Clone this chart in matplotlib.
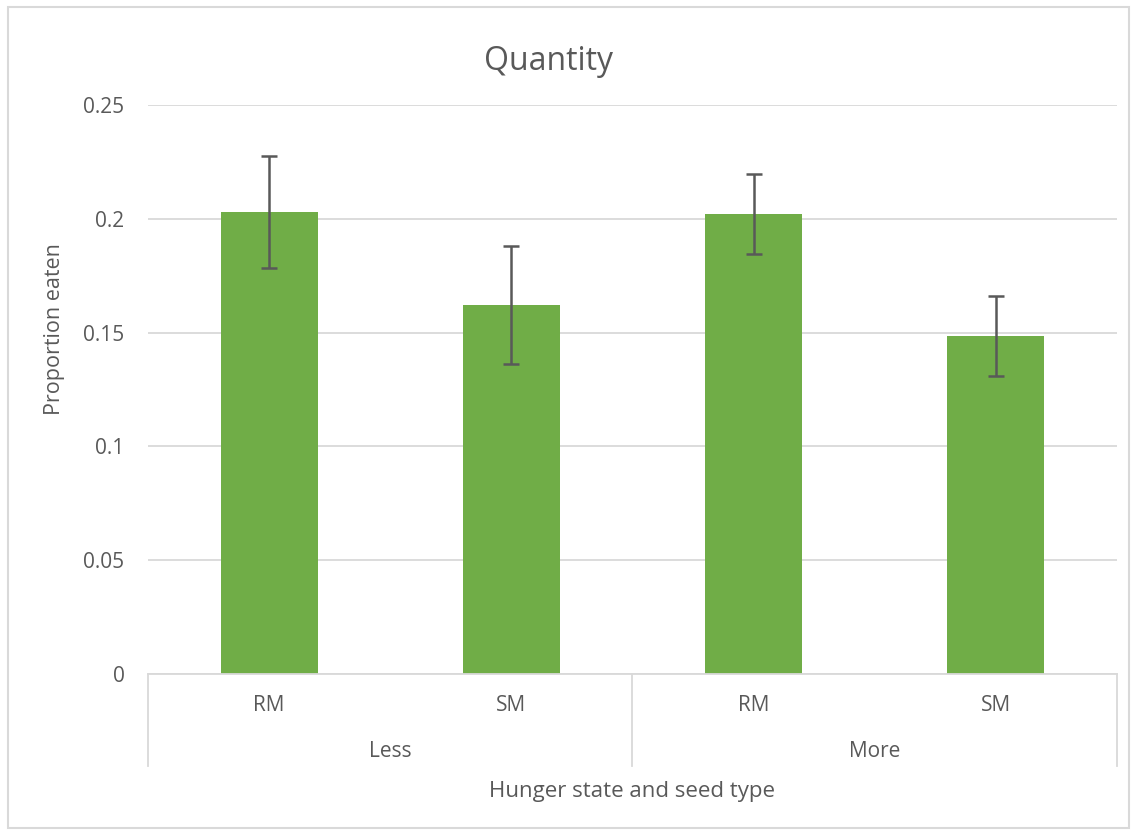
import matplotlib.pyplot as plt
from matplotlib.patches import Rectangle
from matplotlib.transforms import blended_transform_factory

plt.rcParams['font.family'] = ['Open Sans', 'DejaVu Sans']

hunger = ["Less", "More"]
seeds = ["RM", "SM"]
means = [0.2030, 0.1621, 0.2021, 0.1486]
errors = [0.0248, 0.0258, 0.0175, 0.0175]

text_col = "#595959"
grid_col = "#D9D9D9"

fig = plt.figure(figsize=(11.34, 8.31), dpi=100)
ax = fig.add_axes([0.1305, 0.1889, 0.8545, 0.6847])

x = list(range(len(means)))
ax.bar(x, means, width=0.4, color="#70AD47", zorder=2)
ax.errorbar(x, means, yerr=errors, fmt="none", ecolor=text_col,
            elinewidth=1.8, capsize=5.5, capthick=1.8, zorder=3)

ax.set_xlim(-0.5, len(means) - 0.5)
ax.set_ylim(0, 0.25)
ax.set_yticks([0, 0.05, 0.1, 0.15, 0.2, 0.25])
ax.set_yticklabels(["0", "0.05", "0.1", "0.15", "0.2", "0.25"])
ax.yaxis.grid(True, color=grid_col, linewidth=1.3, zorder=0)
ax.tick_params(axis="y", length=0, pad=17, labelsize=15, labelcolor=text_col)
ax.set_xticks([])
for s in ["top", "right", "left"]:
    ax.spines[s].set_visible(False)
ax.spines["bottom"].set_color(grid_col)
ax.spines["bottom"].set_linewidth(1.3)

# two-level category axis
tr = blended_transform_factory(ax.transData, ax.transAxes)
labels = [s for h in hunger for s in seeds]
for xi, lab in zip(x, labels):
    ax.text(xi, -0.055, lab, transform=tr, ha="center", va="center",
            fontsize=15, color=text_col)
for gi, h in enumerate(hunger):
    cx = gi * len(seeds) + (len(seeds) - 1) / 2
    ax.text(cx, -0.136, h, transform=tr, ha="center", va="center",
            fontsize=15, color=text_col)
for b in range(len(hunger) + 1):
    bx = b * len(seeds) - 0.5
    ax.plot([bx, bx], [0, -0.162], transform=tr, color=grid_col,
            linewidth=1.3, clip_on=False)

ax.set_xlabel("Hunger state and seed type", fontsize=16, color=text_col)
ax.xaxis.set_label_coords(0.5, -0.207)
ax.xaxis.label.set_va("center")
ax.set_ylabel("Proportion eaten", fontsize=15.5, color=text_col)
ax.yaxis.set_label_coords(-0.096, 0.606)
ax.yaxis.label.set_va("center")

fig.text(548 / 1134, 1 - 62 / 831, "Quantity", fontsize=23, color=text_col,
         ha="center", va="center")

fig.patches.append(Rectangle((0.007, 0.004), 0.989, 0.988, transform=fig.transFigure,
                             fill=False, edgecolor=grid_col, linewidth=1.5))

fig.savefig("out.png", dpi=100)
